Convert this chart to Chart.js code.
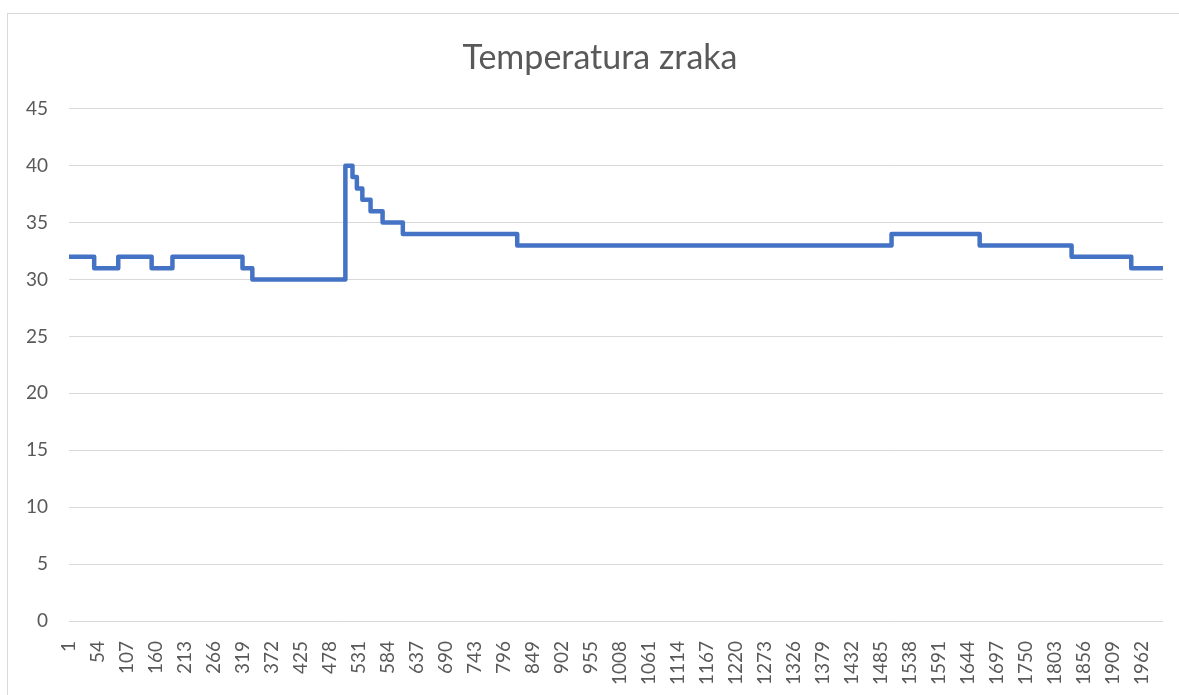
<!DOCTYPE html>
<html>
<head>
<meta charset="utf-8">
<script src="https://cdn.jsdelivr.net/npm/chart.js@4.4.1/dist/chart.umd.min.js"></script>
<style>
  html, body { margin: 0; padding: 0; background: #fff; overflow: hidden; }
  #frame { position: absolute; left: 7px; top: 13px; width: 1200px; height: 700px; border-left: 1px solid #d9d9d9; border-top: 1px solid #d9d9d9; }
  #c { position: absolute; left: 0; top: 0; }
</style>
</head>
<body>
<div id="frame"></div>
<canvas id="c" width="1179" height="695"></canvas>
<script>
// sample index where the reading changes, and the temperature from there on
const changeAt = [1, 47, 91, 152, 190, 318, 336, 506, 519, 527, 537, 552, 574, 611, 820, 1504, 1665, 1833, 1942, 2000];
const temps    = [32, 31, 32, 31, 32, 31, 30, 40, 39, 38, 37, 36, 35, 34, 33, 34, 33, 32, 31, 31];

const xTicks = [1, 54, 107, 160, 213, 266, 319, 372, 425, 478, 531, 584, 637, 690, 743, 796, 849, 902, 955,
  1008, 1061, 1114, 1167, 1220, 1273, 1326, 1379, 1432, 1485, 1538, 1591, 1644, 1697, 1750, 1803, 1856, 1909, 1962];
const yTicks = [0, 5, 10, 15, 20, 25, 30, 35, 40, 45];

const FONT = 'Lato, "Open Sans", sans-serif';
const GREY = '#595959';

const points = changeAt.map((x, i) => ({ x, y: temps[i] }));

// the frame's title sits centred on the whole frame, not on the plot; nudge it right
const centreTitle = {
  id: 'centreTitle',
  afterLayout(chart) { if (chart.titleBlock) chart.titleBlock.right += 37; },
};

new Chart(document.getElementById('c'), {
  type: 'line',
  data: {
    datasets: [{
      data: points,
      borderColor: '#4472C4',
      borderWidth: 4.5,
      borderJoinStyle: 'round',
      pointRadius: 0,
      stepped: true,
      fill: false,
    }],
  },
  plugins: [centreTitle],
  options: {
    responsive: false,
    devicePixelRatio: 1,
    animation: false,
    layout: { padding: { left: 0, right: 16, top: 0, bottom: 0 } },
    plugins: {
      legend: { display: false },
      tooltip: { enabled: false },
      title: {
        display: true,
        text: 'Temperatura zraka',
        color: GREY,
        font: { family: FONT, size: 34, weight: 'normal' },
        padding: { top: 38, bottom: 30 },
      },
    },
    scales: {
      x: {
        type: 'linear',
        min: 1,
        max: 2000,
        grid: { display: false },
        border: { display: false },
        afterBuildTicks: (s) => { s.ticks = xTicks.map(v => ({ value: v })); },
        afterFit: (s) => { s.height = 74; },
        ticks: {
          autoSkip: false,
          minRotation: 90,
          maxRotation: 90,
          padding: 12,
          color: GREY,
          font: { family: FONT, size: 19 },
          callback: (v) => String(v),
        },
      },
      y: {
        min: 0,
        max: 45,
        afterBuildTicks: (s) => { s.ticks = yTicks.map(v => ({ value: v })); },
        afterFit: (s) => { s.width = 69; },
        grid: { color: '#d9d9d9', lineWidth: 1, drawTicks: false },
        border: { display: false },
        ticks: { padding: 21, color: GREY, font: { family: FONT, size: 19 } },
      },
    },
  },
});
</script>
</body>
</html>
